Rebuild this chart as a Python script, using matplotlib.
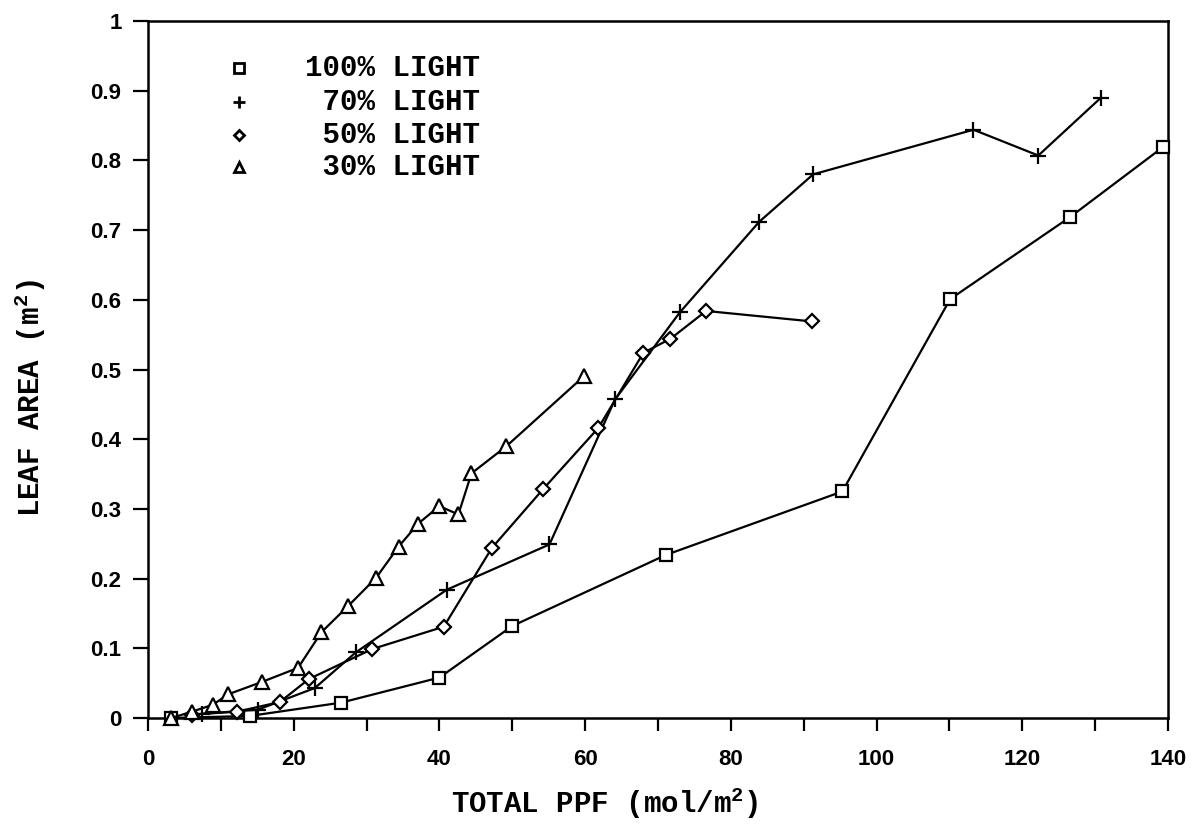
import matplotlib
matplotlib.use("Agg")
import matplotlib.pyplot as plt

# Leaf area vs. cumulative photosynthetic photon flux, by light level
ppf_100 = [3.2, 14.0, 26.5, 40.0, 50.0, 71.1, 95.3, 110.1, 126.6, 139.3]
area_100 = [0.0, 0.003, 0.022, 0.058, 0.132, 0.234, 0.325, 0.601, 0.719, 0.819]

ppf_70 = [7.4, 15.1, 22.9, 28.5, 41.0, 55.1, 64.1, 73.0, 83.9, 91.3, 113.3, 122.2, 130.8]
area_70 = [0.006, 0.012, 0.043, 0.094, 0.184, 0.249, 0.457, 0.582, 0.712, 0.780, 0.844, 0.807, 0.890]

ppf_50 = [6.0, 12.2, 18.1, 22.1, 30.8, 40.6, 47.2, 54.2, 61.8, 68.0, 71.7, 76.6, 91.1]
area_50 = [0.005, 0.009, 0.023, 0.056, 0.099, 0.131, 0.244, 0.328, 0.416, 0.524, 0.544, 0.584, 0.569]

ppf_30 = [3.2, 6.0, 8.9, 11.0, 15.7, 20.6, 23.8, 27.5, 31.3, 34.4, 37.1, 40.0, 42.6, 44.4, 49.2, 59.8]
area_30 = [0.0, 0.009, 0.019, 0.034, 0.052, 0.072, 0.123, 0.161, 0.201, 0.246, 0.279, 0.304, 0.292, 0.351, 0.390, 0.490]

labels = ["100% LIGHT", " 70% LIGHT", " 50% LIGHT", " 30% LIGHT"]
x_ticks = list(range(0, 141, 10))
x_ticklabels = [str(v) if v % 20 == 0 else "" for v in x_ticks]
y_ticks = [0, 0.1, 0.2, 0.3, 0.4, 0.5, 0.6, 0.7, 0.8, 0.9, 1]
y_ticklabels = ["0", "0.1", "0.2", "0.3", "0.4", "0.5", "0.6", "0.7", "0.8", "0.9", "1"]

plt.rcParams["mathtext.fontset"] = "custom"
plt.rcParams["mathtext.rm"] = "Liberation Mono:bold"
plt.rcParams["mathtext.default"] = "rm"

mono = dict(family="Liberation Mono", weight="bold", size=21)
tickfont = dict(family="Liberation Sans", weight="bold", size=16)

W, H = 1193, 836
fig = plt.figure(figsize=(W / 100, H / 100), dpi=100)
ax = fig.add_axes([148 / W, 1 - 718 / H, 1020 / W, 697 / H])

line_kw = dict(color="black", lw=1.6, mfc="white", mec="black", mew=1.6, clip_on=False, zorder=3)
ax.plot(ppf_100, area_100, marker="s", ms=9, **line_kw)
ax.plot(ppf_70, area_70, marker="+", ms=12, **line_kw)
ax.plot(ppf_50, area_50, marker="D", ms=7, **line_kw)
ax.plot(ppf_30, area_30, marker="^", ms=10, **line_kw)

ax.set_xlim(0, 140)
ax.set_ylim(0, 1)
ax.set_xticks(x_ticks)
ax.set_xticklabels(x_ticklabels, **tickfont)
ax.set_yticks(y_ticks)
ax.set_yticklabels(y_ticklabels, **tickfont)
ax.tick_params(axis="x", direction="out", length=9, width=1.6, pad=13)
ax.tick_params(axis="y", direction="out", length=11, width=1.6, pad=8)
for s in ax.spines.values():
    s.set_linewidth(1.8)

# key in the upper-left corner
markers = [("s", 7), ("+", 9), ("D", 5), ("^", 7)]
rows = [68, 102, 135, 167]
for (m, size), label, py in zip(markers, labels, rows):
    yy = (718 - py) / 697
    ax.plot([(239 - 148) / 1020], [yy], transform=ax.transAxes, marker=m, ms=size,
            mfc="white", mec="black", mew=2.0, ls="none", clip_on=False)
    ax.text((480 - 148) / 1020, yy, label, transform=ax.transAxes, ha="right",
            va="center", **mono)

fig.text(605 / W, 1 - 803 / H, "TOTAL PPF (mol/m$^{2}$)", ha="center", va="center", **mono)
fig.text(30 / W, 1 - 398 / H, "LEAF AREA (m$^{2}$)", ha="center", va="center",
         rotation=90, **mono)

fig.savefig("out.png", dpi=100)
